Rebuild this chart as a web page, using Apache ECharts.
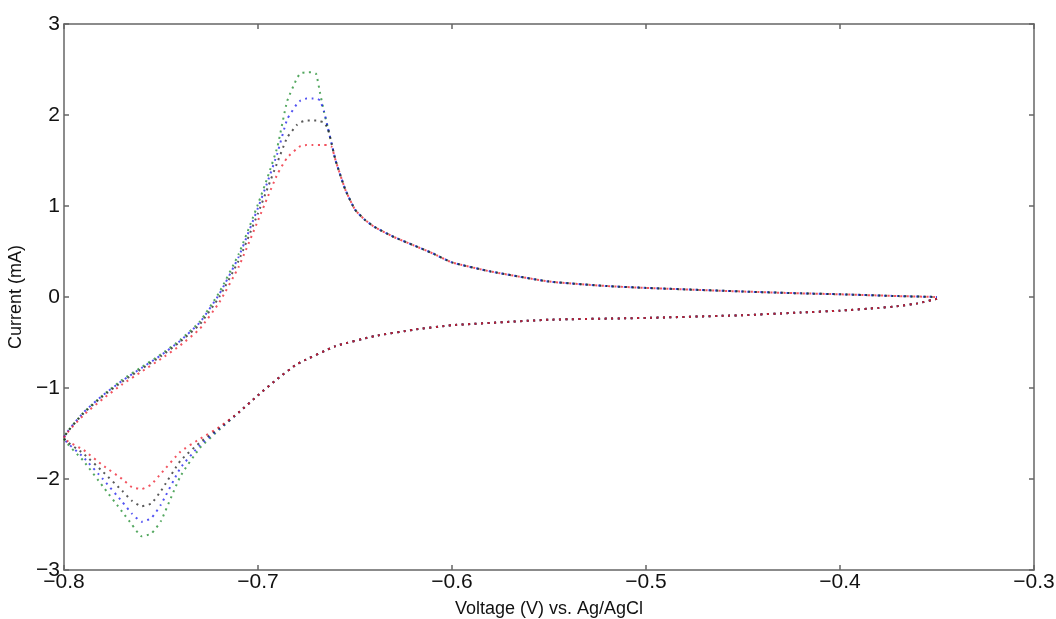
<!DOCTYPE html>
<html>
<head>
<meta charset="utf-8">
<script src="https://cdn.jsdelivr.net/npm/echarts@6/dist/echarts.min.js"></script>
<style>
html,body{margin:0;padding:0;background:#fff;}
#chart{width:1056px;height:619px;}
</style>
</head>
<body>
<div id="chart"></div>
<script>
// Forward (cathodic) scan voltages, from -0.35 V down to -0.80 V
var fwdV = [-0.35, -0.36, -0.37, -0.38, -0.40, -0.42, -0.45, -0.50, -0.55, -0.60, -0.62, -0.64, -0.66, -0.68, -0.69, -0.70, -0.71, -0.72, -0.73, -0.74, -0.75, -0.755, -0.76, -0.765, -0.77, -0.78, -0.79, -0.80];
// Reverse (anodic) scan voltages, from -0.80 V back to -0.35 V
var revV = [-0.80, -0.79, -0.78, -0.77, -0.76, -0.75, -0.74, -0.73, -0.72, -0.71, -0.70, -0.695, -0.69, -0.685, -0.68, -0.678, -0.675, -0.672, -0.670, -0.668, -0.666, -0.664, -0.662, -0.66, -0.655, -0.65, -0.645, -0.64, -0.63, -0.62, -0.61, -0.60, -0.58, -0.55, -0.52, -0.50, -0.45, -0.42, -0.40, -0.37, -0.35];

var greenFwd = [-0.02, -0.07, -0.10, -0.12, -0.15, -0.17, -0.20, -0.23, -0.25, -0.31, -0.36, -0.43, -0.54, -0.74, -0.90, -1.08, -1.27, -1.46, -1.66, -1.97, -2.46, -2.60, -2.63, -2.50, -2.36, -2.08, -1.80, -1.55];
var blueFwd  = [-0.02, -0.07, -0.10, -0.12, -0.15, -0.17, -0.20, -0.23, -0.25, -0.31, -0.36, -0.43, -0.54, -0.74, -0.90, -1.08, -1.27, -1.45, -1.63, -1.88, -2.28, -2.43, -2.47, -2.38, -2.25, -2.00, -1.76, -1.55];
var blackFwd = [-0.02, -0.07, -0.10, -0.12, -0.15, -0.17, -0.20, -0.23, -0.25, -0.31, -0.36, -0.43, -0.54, -0.74, -0.90, -1.08, -1.27, -1.44, -1.60, -1.80, -2.13, -2.27, -2.30, -2.24, -2.13, -1.92, -1.72, -1.55];
var redFwd   = [-0.02, -0.07, -0.10, -0.12, -0.15, -0.17, -0.20, -0.23, -0.25, -0.31, -0.36, -0.43, -0.54, -0.74, -0.90, -1.08, -1.27, -1.43, -1.56, -1.70, -1.94, -2.06, -2.11, -2.09, -2.00, -1.85, -1.68, -1.55];

var greenRev = [-1.55, -1.27, -1.08, -0.91, -0.77, -0.63, -0.47, -0.27, 0.05, 0.47, 1.02, 1.32, 1.65, 2.15, 2.40, 2.46, 2.47, 2.47, 2.45, 2.24, 2.04, 1.86, 1.68, 1.50, 1.18, 0.96, 0.85, 0.77, 0.66, 0.57, 0.48, 0.38, 0.28, 0.17, 0.12, 0.10, 0.06, 0.04, 0.03, 0.01, 0.00];
var blueRev  = [-1.55, -1.27, -1.08, -0.92, -0.78, -0.64, -0.48, -0.28, 0.03, 0.44, 0.98, 1.27, 1.58, 1.95, 2.12, 2.16, 2.18, 2.18, 2.18, 2.16, 2.04, 1.86, 1.68, 1.50, 1.18, 0.96, 0.85, 0.77, 0.66, 0.57, 0.48, 0.38, 0.28, 0.17, 0.12, 0.10, 0.06, 0.04, 0.03, 0.01, 0.00];
var blackRev = [-1.55, -1.28, -1.09, -0.93, -0.79, -0.65, -0.49, -0.30, 0.00, 0.40, 0.92, 1.20, 1.48, 1.75, 1.89, 1.92, 1.94, 1.94, 1.94, 1.93, 1.92, 1.85, 1.68, 1.50, 1.18, 0.96, 0.85, 0.77, 0.66, 0.57, 0.48, 0.38, 0.28, 0.17, 0.12, 0.10, 0.06, 0.04, 0.03, 0.01, 0.00];
var redRev   = [-1.55, -1.30, -1.12, -0.96, -0.82, -0.68, -0.53, -0.35, -0.06, 0.33, 0.84, 1.10, 1.35, 1.53, 1.63, 1.66, 1.67, 1.67, 1.67, 1.67, 1.67, 1.67, 1.65, 1.50, 1.18, 0.96, 0.85, 0.77, 0.66, 0.57, 0.48, 0.38, 0.28, 0.17, 0.12, 0.10, 0.06, 0.04, 0.03, 0.01, 0.00];

var seriesNames = ['scan 1', 'scan 2', 'scan 3', 'scan 4'];
var seriesColors = ['#1a8a2a', '#1a1aee', '#222222', '#ee1a2a'];
var xTicks = { min: -0.8, max: -0.3, interval: 0.1 };
var yTicks = { min: -3, max: 3, interval: 1 };
var xTitle = 'Voltage (V) vs. Ag/AgCl';
var yTitle = 'Current (mA)';

function loop(fwd, rev) {
  var d = [];
  fwdV.forEach(function (v, i) { d.push([v, fwd[i]]); });
  revV.forEach(function (v, i) { d.push([v, rev[i]]); });
  return d;
}
var allData = [loop(greenFwd, greenRev), loop(blueFwd, blueRev), loop(blackFwd, blackRev), loop(redFwd, redRev)];

function fmt(v, dec) {
  var r = Math.round(v * Math.pow(10, dec)) / Math.pow(10, dec);
  var s = Math.abs(r).toFixed(dec);
  return (r < 0 ? '\u2212' : '') + s;
}

var axisLineStyle = { color: '#666666', width: 1.5 };
var fontFam = 'Liberation Sans, Arial, sans-serif';
var labelFont = { color: '#111', fontSize: 21, fontFamily: fontFam };

var chart = echarts.init(document.getElementById('chart'));
chart.setOption({
  animation: false,
  backgroundColor: '#ffffff',
  grid: { left: 64, right: 22, top: 24, bottom: 49, containLabel: false, outerBoundsMode: 'none' },
  xAxis: [{
    type: 'value', position: 'bottom',
    min: xTicks.min, max: xTicks.max, interval: xTicks.interval,
    name: xTitle, nameLocation: 'middle', nameGap: 30,
    nameTextStyle: { color: '#111', fontSize: 18, fontFamily: fontFam },
    axisLine: { show: true, onZero: false, lineStyle: axisLineStyle },
    axisTick: { show: true, inside: true, length: 5, lineStyle: axisLineStyle },
    axisLabel: Object.assign({ margin: 2, formatter: function (v) { return fmt(v, 1); } }, labelFont),
    splitLine: { show: false }
  }, {
    type: 'value', position: 'top',
    min: xTicks.min, max: xTicks.max, interval: xTicks.interval,
    axisLine: { show: true, onZero: false, lineStyle: axisLineStyle },
    axisTick: { show: true, inside: true, length: 5, lineStyle: axisLineStyle },
    axisLabel: { show: false },
    splitLine: { show: false }
  }],
  yAxis: [{
    type: 'value', position: 'left',
    min: yTicks.min, max: yTicks.max, interval: yTicks.interval,
    name: yTitle, nameLocation: 'middle', nameGap: 36, nameRotate: 90,
    nameTextStyle: { color: '#111', fontSize: 18, fontFamily: fontFam },
    axisLine: { show: true, onZero: false, lineStyle: axisLineStyle },
    axisTick: { show: true, inside: true, length: 5, lineStyle: axisLineStyle },
    axisLabel: Object.assign({ margin: 4, formatter: function (v) { return fmt(v, 0); } }, labelFont),
    splitLine: { show: false }
  }, {
    type: 'value', position: 'right',
    min: yTicks.min, max: yTicks.max, interval: yTicks.interval,
    axisLine: { show: true, onZero: false, lineStyle: axisLineStyle },
    axisTick: { show: true, inside: true, length: 5, lineStyle: axisLineStyle },
    axisLabel: { show: false },
    splitLine: { show: false }
  }],
  series: allData.map(function (d, k) {
    return {
      name: seriesNames[k], type: 'line', data: d,
      xAxisIndex: 0, yAxisIndex: 0,
      showSymbol: false, smooth: 0.15,
      lineStyle: { color: seriesColors[k], width: 2, type: [2, 4.5], opacity: 0.75 }
    };
  })
});
</script>
</body>
</html>
